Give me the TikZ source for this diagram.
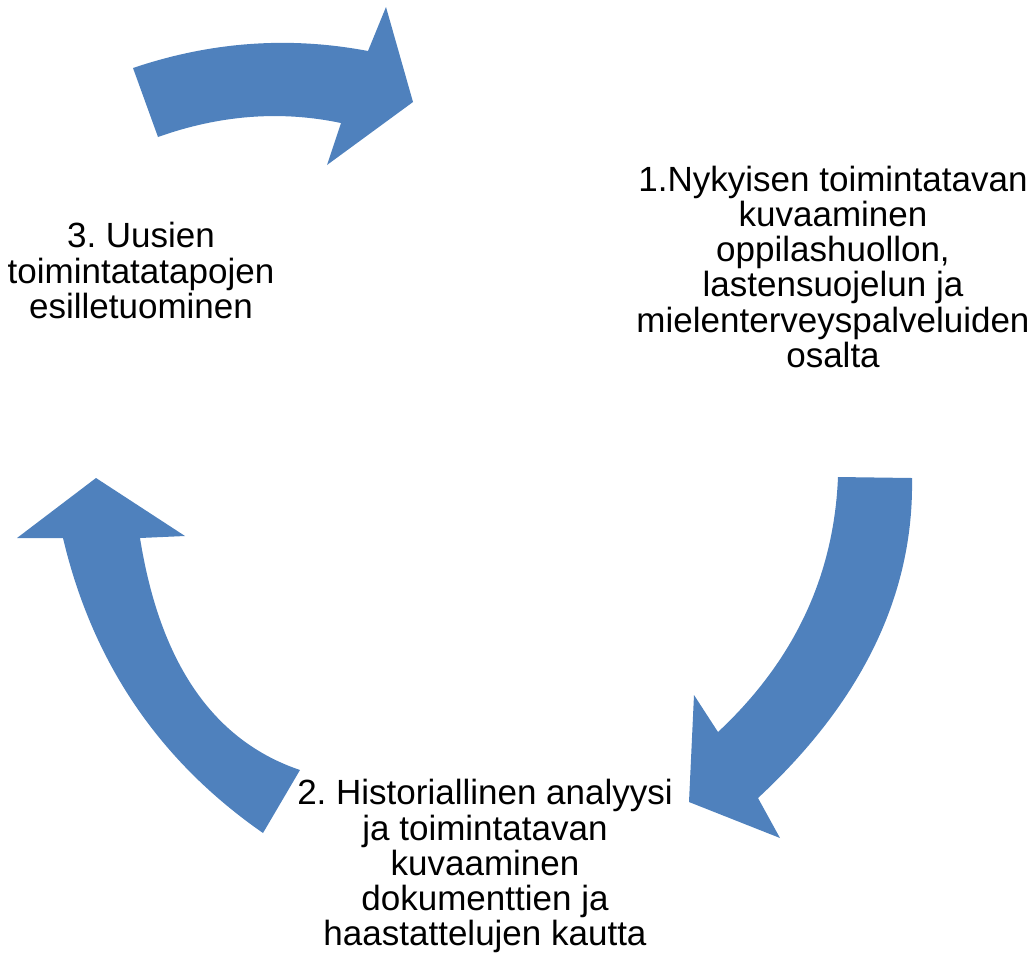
\documentclass[tikz,border=0pt]{standalone}
\usepackage{fontspec}
\setmainfont{Liberation Sans}
\usepackage{tikz}
\definecolor{cycleblue}{RGB}{79,129,189}
\frenchspacing

\begin{document}
\begin{tikzpicture}[x=0.1mm, y=-0.1mm]
\tikzset{cyclearrow/.style={fill=cycleblue, draw=none},
         steptext/.style={align=center, inner sep=0pt, anchor=base,
                          font=\fontsize{9.96pt}{9.96pt}\selectfont}}
\useasboundingbox (0,0) rectangle (1035,954);
% arrow 3 -> 1 (top)
\fill[cyclearrow] (133,68) .. controls (210.7,41.7) and (289,36) .. (368,51) -- (386,7) -- (413,102)
  -- (327,165) -- (341,123) .. controls (280.7,110.3) and (219.7,115) .. (158,137) -- cycle;
% arrow 1 -> 2 (right)
\fill[cyclearrow] (912,478) .. controls (914,594) and (862.7,700.7) .. (758,798) -- (780,838) -- (689,802)
  -- (694,695) -- (718,732) .. controls (794,661) and (834,576) .. (838,477) -- cycle;
% arrow 2 -> 3 (left)
\fill[cyclearrow] (263,833) .. controls (159,760.7) and (92.3,662.3) .. (63,538) -- (17,538) -- (96,478)
  -- (185,536) -- (140,538) .. controls (160,663.3) and (213.3,740.7) .. (300,770) -- cycle;
% steps (anchor base = last line)
\node[steptext] (step1) at (833,367) {1.Nykyisen toimintatavan\\kuvaaminen\\oppilashuollon,\\lastensuojelun ja\\mielenterveyspalveluiden\\osalta};
\node[steptext] (step2) at (485,945) {2. Historiallinen analyysi\\ja toimintatavan\\kuvaaminen\\dokumenttien ja\\haastattelujen kautta};
\node[steptext] (step3) at (141,318) {3. Uusien\\toimintatatapojen\\esilletuominen};
\end{tikzpicture}
\end{document}
